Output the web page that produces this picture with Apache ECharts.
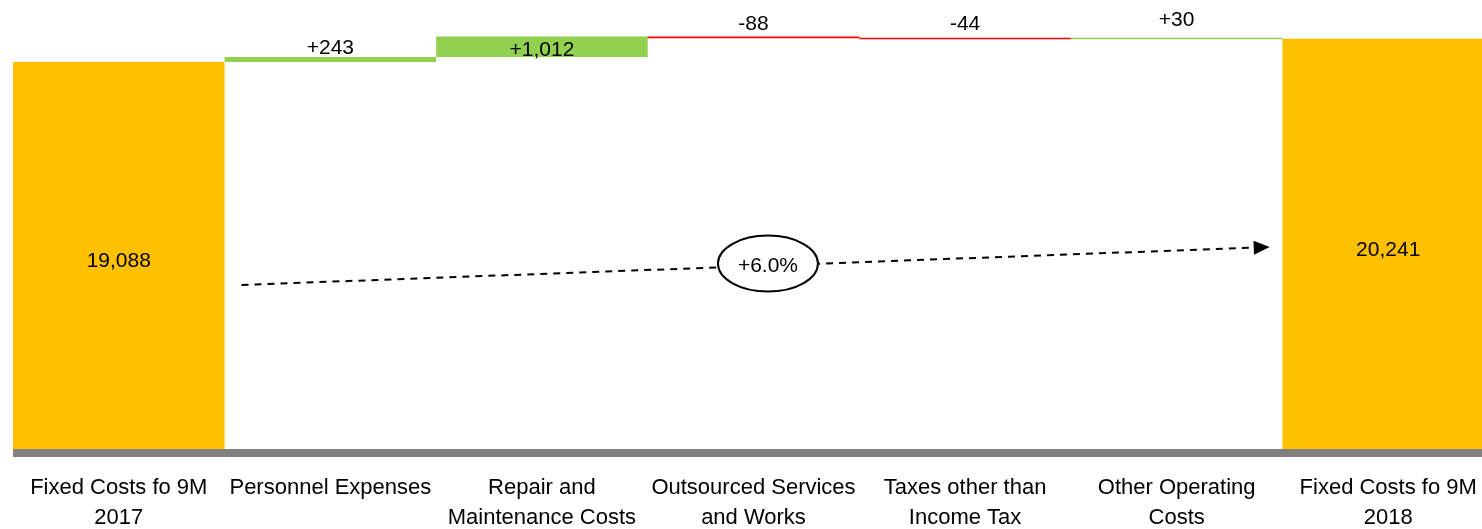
<!DOCTYPE html>
<html>
<head>
<meta charset="utf-8">
<script src="https://cdn.jsdelivr.net/npm/echarts@6/dist/echarts.min.js"></script>
<style>
  html, body { margin: 0; padding: 0; background: #fff; overflow: hidden; }
  #chart { width: 1494px; height: 529px; }
</style>
</head>
<body>
<div id="chart"></div>
<script>
// ---- data ----
const categories = [
  "Fixed Costs fo 9M\n2017",
  "Personnel Expenses",
  "Repair and\nMaintenance Costs",
  "Outsourced Services\nand Works",
  "Taxes other than\nIncome Tax",
  "Other Operating\nCosts",
  "Fixed Costs fo 9M\n2018"
];
const startTotal = 19088;
const deltas = [243, 1012, -88, -44, 30];
const endTotal = 20241;
const growthLabel = "+6.0%";
// arrow anchors in data space: [category position, value]
const arrowFrom = [0.58, 8090];
const arrowTo = [5.44, 9960];
const ellipseAt = 0.512;

// ---- styling ----
const FONT = '"Liberation Sans", Arial, sans-serif';
const YELLOW = '#FFC000', GREEN = '#92D050', RED = '#FF0000';

// build waterfall
const baseVals = [0];
const barVals = [startTotal];
const colors = [YELLOW];
let running = startTotal;
deltas.forEach(d => {
  if (d >= 0) { baseVals.push(running); } else { baseVals.push(running + d); }
  barVals.push(Math.abs(d));
  colors.push(d >= 0 ? GREEN : RED);
  running += d;
});
baseVals.push(0); barVals.push(endTotal); colors.push(YELLOW);

const fmt = n => n.toLocaleString('en-US');
const labelDist = [0, -2, 0, 1.5, 3, 7, 0];
const barData = barVals.map((v, i) => {
  const isTotal = i === 0 || i === barVals.length - 1;
  const d = isTotal ? null : deltas[i - 1];
  const text = isTotal ? fmt(v) : (d >= 0 ? '+' : '-') + fmt(Math.abs(d));
  return {
    value: v,
    itemStyle: { color: colors[i] },
    label: {
      show: true,
      position: (isTotal || i === 2) ? 'inside' : 'top',
      distance: labelDist[i],
      formatter: text,
      color: '#000',
      fontFamily: FONT,
      fontSize: 21,
      offset: isTotal ? [0, 6] : (i === 2 ? [0, 3] : [0, 0])
    }
  };
});

const chart = echarts.init(document.getElementById('chart'), null, { renderer: 'canvas' });
chart.setOption({
  animation: false,
  backgroundColor: '#fff',
  grid: { left: 13, right: 0, top: 3, bottom: 76, containLabel: false, outerBoundsMode: 'none' },
  xAxis: {
    type: 'category',
    data: categories,
    axisLine: { show: true, onZero: false, lineStyle: { color: '#808080', width: 8, cap: 'butt' } },
    axisTick: { show: false },
    axisLabel: {
      interval: 0, margin: 20, color: '#000',
      fontFamily: FONT, fontSize: 22, lineHeight: 30
    },
    splitLine: { show: false }
  },
  yAxis: { type: 'value', min: -200, max: 22000, show: false, splitLine: { show: false } },
  series: [
    { type: 'bar', stack: 'w', data: baseVals, itemStyle: { color: 'transparent' },
      barCategoryGap: 0, silent: true },
    { type: 'bar', stack: 'w', data: barData, barCategoryGap: 0, barMinHeight: 1.5 }
  ]
});

// arrow annotation, positioned through the chart's scales
function toPx(catPos, value) {
  const i0 = Math.floor(catPos);
  const p0 = chart.convertToPixel({ xAxisIndex: 0, yAxisIndex: 0 }, [i0, value]);
  const p1 = chart.convertToPixel({ xAxisIndex: 0, yAxisIndex: 0 }, [i0 + 1, value]);
  const f = catPos - i0;
  return [p0[0] + (p1[0] - p0[0]) * f, p0[1]];
}
const a = toPx(arrowFrom[0], arrowFrom[1]);
const b = toPx(arrowTo[0], arrowTo[1]);
const ang = Math.atan2(b[1] - a[1], b[0] - a[0]);
const headLen = 16, headHalf = 7;
const base = [b[0] - headLen * Math.cos(ang), b[1] - headLen * Math.sin(ang)];
const perp = [-Math.sin(ang), Math.cos(ang)];
const mid = [a[0] + (b[0] - a[0]) * ellipseAt, a[1] + (b[1] - a[1]) * ellipseAt];

chart.setOption({
  graphic: [
    { type: 'line', z: 10,
      shape: { x1: a[0], y1: a[1], x2: base[0], y2: base[1] },
      style: { stroke: '#000', lineWidth: 2, lineDash: [7, 6] } },
    { type: 'polygon', z: 10,
      shape: { points: [b, [base[0] + perp[0] * headHalf, base[1] + perp[1] * headHalf],
                        [base[0] - perp[0] * headHalf, base[1] - perp[1] * headHalf]] },
      style: { fill: '#000' } },
    { type: 'ellipse', z: 11,
      shape: { cx: mid[0], cy: mid[1] - 2, rx: 50, ry: 28 },
      style: { fill: '#fff', stroke: '#000', lineWidth: 2 } },
    { type: 'text', z: 12, x: mid[0], y: mid[1] + 1,
      style: { text: growthLabel, fill: '#000', font: '21px ' + FONT,
               textAlign: 'center', textVerticalAlign: 'middle' } }
  ]
});
</script>
</body>
</html>
